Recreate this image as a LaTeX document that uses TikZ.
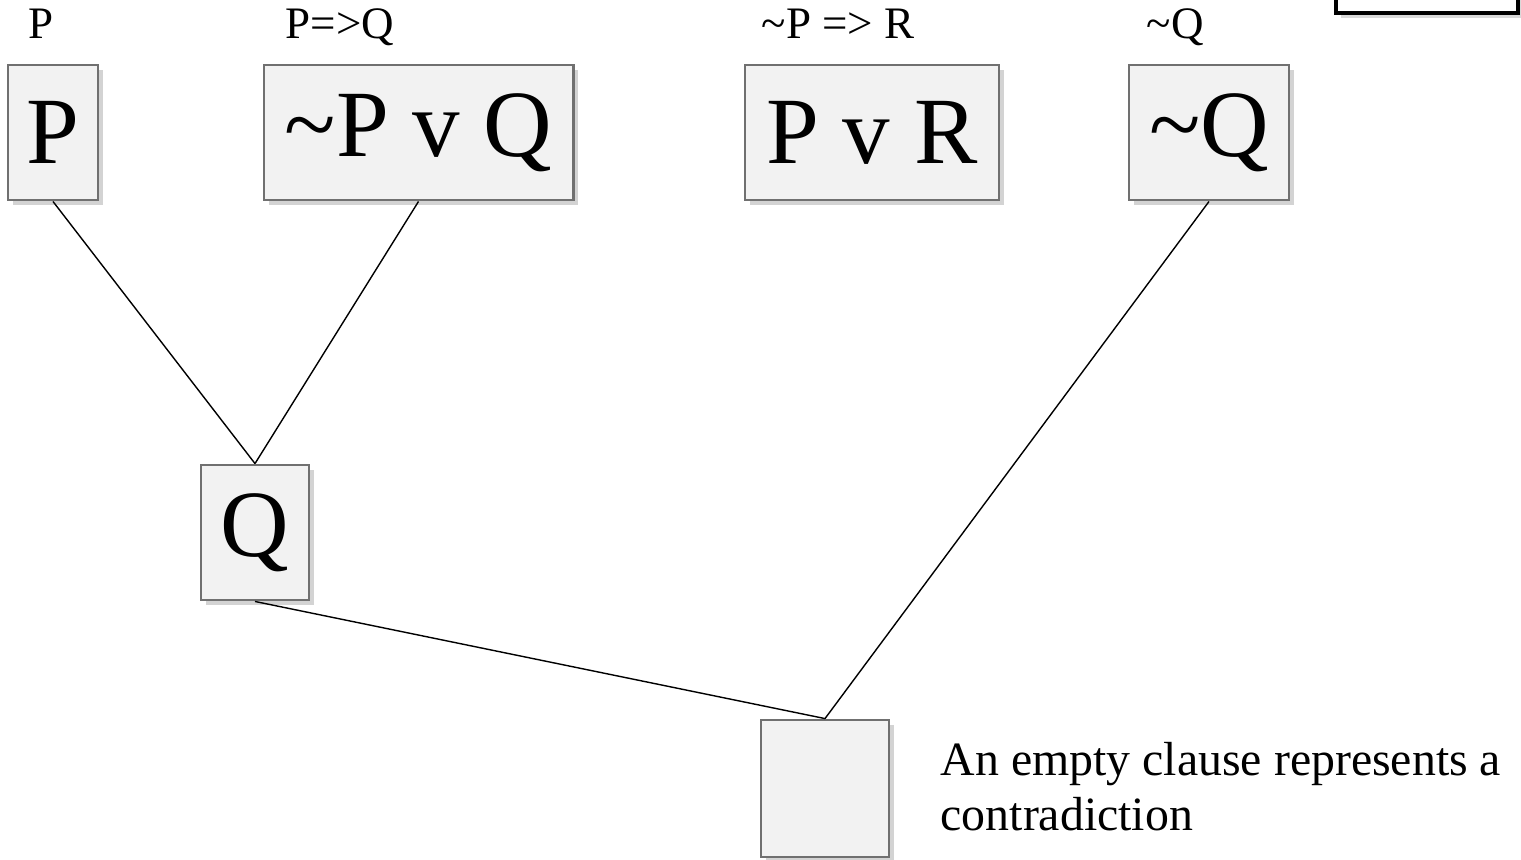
\documentclass[tikz,border=0pt]{standalone}
\usepackage{fontspec}
\setmainfont{Liberation Serif}
\usepackage{tikz}
\usetikzlibrary{shapes,positioning,shadows}
\usepackage{xcolor}
\definecolor{clgray}{RGB}{112,112,112}
\definecolor{clfill}{RGB}{242,242,242}
\tikzstyle{clause} = [rectangle, minimum height=1.35cm, text centered, inner sep=0pt, draw=clgray, fill=clfill, line width=0.8pt, font=\fontsize{27}{32}\selectfont, drop shadow={shadow xshift=0.05cm, shadow yshift=-0.05cm, opacity=0.35}]
\tikzstyle{given} = [anchor=base west, inner sep=0pt, font=\fontsize{12.8}{15}\selectfont]
\tikzstyle{edge} = [thin, color=black]

\begin{document}
\begin{tikzpicture}[x=0.01cm, y=-0.01cm]
\useasboundingbox (0,0) rectangle (1521,859);
% partial box at the top right
\node (corner) [rectangle, draw=black, fill=white, line width=1pt, minimum width=1.82cm, minimum height=0.6cm, drop shadow={shadow xshift=0.05cm, shadow yshift=-0.05cm, opacity=0.3}] at (1427,-17) {};
% premises
\node (p) [clause, minimum width=0.9cm] at (53,132.5) {P};
\node (pq) [clause, minimum width=3.09cm] at (418.5,132.5) {\textasciitilde P v Q};
\node (pr) [clause, minimum width=2.54cm] at (872,132.5) {P v R};
\node (nq) [clause, minimum width=1.6cm] at (1209,132.5) {\textasciitilde Q};
% resolvents
\node (q) [clause, minimum width=1.08cm] at (255,532.5) {Q};
\node (empty) [clause, minimum width=1.28cm, minimum height=1.37cm] at (825,788.5) {};
% labels
\node (lp) [given] at (28,38) {P};
\node (lpq) [given] at (285,38) {P=>Q};
\node (lpr) [given] at (761,38) {\textasciitilde P => R};
\node (lnq) [given] at (1146,38) {\textasciitilde Q};
\node (note) [anchor=north west, inner sep=0pt, align=left, font=\fontsize{13.6}{15.5}\selectfont] at (940,742) {An empty clause represents a\\contradiction};
\draw [edge] (p.south) -- (q.north);
\draw [edge] (pq.south) -- (q.north);
\draw [edge] (q.south) -- (empty.north);
\draw [edge] (nq.south) -- (empty.north);
\end{tikzpicture}
\end{document}
